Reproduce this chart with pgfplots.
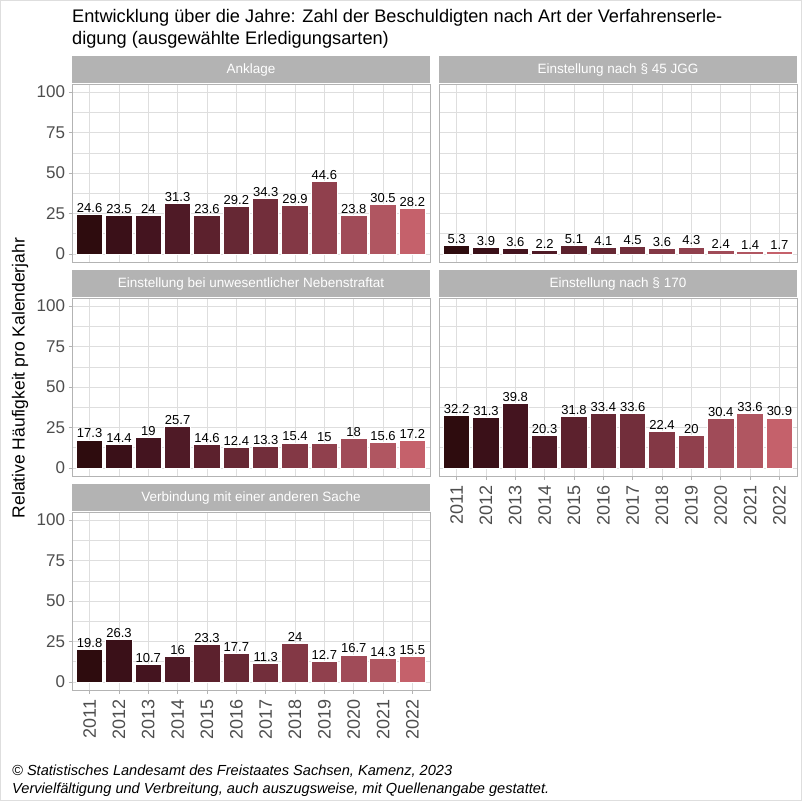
\documentclass[border=0pt]{standalone}
\usepackage{pgfplots}
\pgfplotsset{compat=1.18}
\usepackage{pgfplotstable}
\usepackage{fontspec}
\setmainfont{Liberation Sans}

\definecolor{c1}{RGB}{46,12,14}
\definecolor{c2}{RGB}{58,16,24}
\definecolor{c3}{RGB}{68,20,31}
\definecolor{c4}{RGB}{79,26,38}
\definecolor{c5}{RGB}{92,33,45}
\definecolor{c6}{RGB}{102,40,52}
\definecolor{c7}{RGB}{114,46,59}
\definecolor{c8}{RGB}{131,56,69}
\definecolor{c9}{RGB}{144,64,77}
\definecolor{c10}{RGB}{160,75,88}
\definecolor{c11}{RGB}{176,86,97}
\definecolor{c12}{RGB}{197,97,107}
\definecolor{grey70}{RGB}{179,179,179}
\definecolor{grey87}{RGB}{222,222,222}
\definecolor{grey30}{RGB}{77,77,77}

% year index, then one column per panel
\pgfplotstableread{
x  ank   jgg  neb   p170  ver
1  24.6  5.3  17.3  32.2  19.8
2  23.5  3.9  14.4  31.3  26.3
3  24    3.6  19    39.8  10.7
4  31.3  2.2  25.7  20.3  16
5  23.6  5.1  14.6  31.8  23.3
6  29.2  4.1  12.4  33.4  17.7
7  34.3  4.5  13.3  33.6  11.3
8  29.9  3.6  15.4  22.4  24
9  44.6  4.3  15    20    12.7
10 23.8  2.4  18    30.4  16.7
11 30.5  1.4  15.6  33.6  14.3
12 28.2  1.7  17.2  30.9  15.5
}\data

\newcommand{\bars}[1]{%
  \pgfplotsinvokeforeach{1,...,12}{%
    \addplot[fill=c##1, draw=white, line width=0.8pt]
      table[x=x, y=#1, restrict x to domain=##1:##1] {\data};
  }}

\pgfplotsset{
  /pgf/number format/assume math mode=true,
  panel/.style={
    width=358pt, height=178pt, scale only axis,
    xmin=0.4, xmax=12.6, ymin=-5, ymax=105,
    ybar, bar width=0.9, bar shift=0pt,
    xtick={1,...,12}, ytick={0,25,50,75,100},
    minor ytick={12.5,37.5,62.5,87.5},
    grid=both,
    major grid style={draw=grey87, line width=0.8pt},
    minor grid style={draw=grey87, line width=0.4pt},
    axis line style={draw=grey70, line width=0.9pt},
    tick style={draw=grey70, line width=0.8pt},
    major tick length=3.5pt, minor tick length=0pt,
    tick align=outside,
    xticklabels={}, yticklabels={},
    xtick style={draw=none}, ytick style={draw=none},
    ticklabel style={text=grey30, font=\fontsize{17}{17}\selectfont},
    nodes near coords,
    nodes near coords style={font=\fontsize{13}{13}\selectfont, text=black, anchor=south, inner sep=1.5pt},
    title style={at={(0.5,1)}, anchor=south, fill=grey70, text=white,
      minimum width=358.9pt, minimum height=27pt, inner sep=0pt, yshift=-5.6pt,
      font=\fontsize{13.5}{13.5}\selectfont},
  },
  lefty/.style={
    yticklabels={0,25,50,75,100},
    ytick style={draw=grey70, line width=0.8pt}, ytick pos=left,
  },
  bottomx/.style={
    xticklabels={2011,2012,2013,2014,2015,2016,2017,2018,2019,2020,2021,2022},
    xtick style={draw=grey70, line width=0.8pt}, xtick pos=bottom,
    xticklabel style={yshift=-2.5pt, rotate=90, anchor=east, font=\fontsize{18}{18}\selectfont},
  },
}

\begin{document}
\begin{tikzpicture}
\draw[grey87, line width=0.8pt] (0.4pt,-0.4pt) rectangle (801.6pt,-800.6pt);

\node[anchor=north west, align=left, inner sep=0pt, font=\fontsize{18.2}{22}\selectfont]
  at (72pt,-9pt) {Entwicklung über die Jahre: Zahl der Beschuldigten nach Art der Verfahrenserle-\\digung (ausgewählte Erledigungsarten)};

\node[rotate=90, inner sep=0pt, font=\fontsize{17.5}{17.5}\selectfont]
  at (20pt,-378pt) {Relative Häufigkeit pro Kalenderjahr};

\begin{axis}[panel, lefty, at={(72pt,-262pt)}, anchor=south west, title={Anklage}]
\bars{ank}
\end{axis}

\begin{axis}[panel, at={(439pt,-262pt)}, anchor=south west, title={Einstellung nach § 45 JGG}]
\bars{jgg}
\end{axis}

\begin{axis}[panel, lefty, at={(72pt,-476pt)}, anchor=south west, title={Einstellung bei unwesentlicher Nebenstraftat}]
\bars{neb}
\end{axis}

\begin{axis}[panel, bottomx, at={(439pt,-476pt)}, anchor=south west, title={Einstellung nach § 170}]
\bars{p170}
\end{axis}

\begin{axis}[panel, lefty, bottomx, at={(72pt,-690pt)}, anchor=south west, title={Verbindung mit einer anderen Sache}]
\bars{ver}
\end{axis}

\node[anchor=north west, align=left, inner sep=0pt, font=\fontsize{14.6}{17.5}\selectfont\itshape]
  at (12pt,-765pt) {© Statistisches Landesamt des Freistaates Sachsen, Kamenz, 2023\\Vervielfältigung und Verbreitung, auch auszugsweise, mit Quellenangabe gestattet.};
\end{tikzpicture}
\end{document}
